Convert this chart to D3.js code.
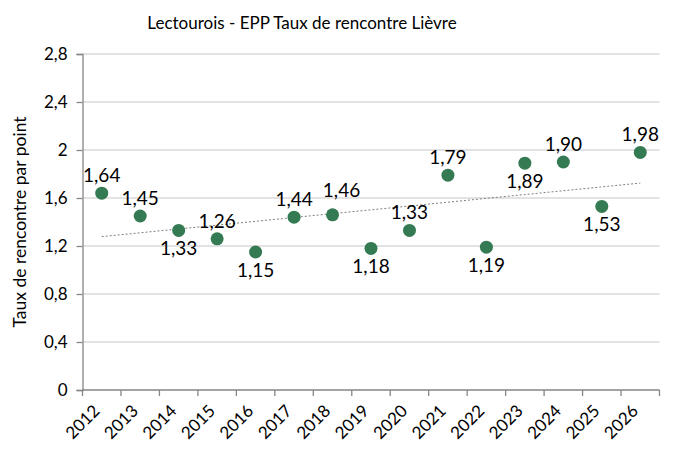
<!DOCTYPE html>
<html>
<head>
<meta charset="utf-8">
<script src="https://cdn.jsdelivr.net/npm/d3@7"></script>
<style>
  body { margin: 0; background: #fff; }
  text { font-family: Lato, "Open Sans", sans-serif; fill: #000; }
</style>
</head>
<body>
<div id="chart"></div>
<script>
// data
const years = ["2012", "2013", "2014", "2015", "2016", "2017", "2018", "2019",
               "2020", "2021", "2022", "2023", "2024", "2025", "2026"];
const taux = [1.64, 1.45, 1.33, 1.26, 1.15, 1.44, 1.46, 1.18,
              1.33, 1.79, 1.19, 1.89, 1.90, 1.53, 1.98];
// where Excel put each data label (the 2018 one was nudged up-right)
const labelPos = ["up", "up", "down", "up", "down", "up", "nudge", "down",
                  "up", "up", "down", "down", "up", "down", "up"];
const yTicks = [0, 0.4, 0.8, 1.2, 1.6, 2, 2.4, 2.8];

const width = 676, height = 451;
const plotL = 82.5, plotR = 659.5, plotT = 54, plotB = 390;

const svg = d3.select("#chart").append("svg")
  .attr("width", width)
  .attr("height", height);

const xBand = d3.scaleBand().domain(years).range([plotL, plotR]);
const yScale = d3.scaleLinear().domain([0, 2.8]).range([plotB, plotT]);
const fmt = d => String(d).replace(".", ",");
const fmt2 = d => d3.format(".2f")(d).replace(".", ",");
const cx = i => xBand(years[i]) + xBand.bandwidth() / 2;

// gridlines
svg.append("g")
  .selectAll("line")
  .data(yTicks.filter(d => d > 0))
  .join("line")
  .attr("x1", plotL).attr("x2", plotR)
  .attr("y1", d => yScale(d)).attr("y2", d => yScale(d))
  .attr("stroke", "#d9d9d9")
  .attr("stroke-width", 1.3);

// y axis
const yAxis = svg.append("g")
  .attr("transform", `translate(${plotL},0)`)
  .call(d3.axisLeft(yScale).tickValues(yTicks).tickSize(6).tickPadding(9).tickFormat(fmt));
yAxis.attr("font-family", null);
yAxis.select(".domain").attr("stroke", "#868686").attr("stroke-width", 1.3);
yAxis.selectAll(".tick line").attr("stroke", "#868686").attr("stroke-width", 1.3);
yAxis.selectAll("text").attr("font-size", 17).style("fill", "#000");

// x axis: ticks at category boundaries
const xAxis = svg.append("g").attr("transform", `translate(0,${plotB})`);
xAxis.append("line")
  .attr("x1", plotL).attr("x2", plotR)
  .attr("stroke", "#868686").attr("stroke-width", 1.3);
const bounds = years.map(y => xBand(y)).concat([plotR]);
xAxis.selectAll(".xt")
  .data(bounds)
  .join("line")
  .attr("class", "xt")
  .attr("x1", d => d).attr("x2", d => d)
  .attr("y1", 0).attr("y2", 6)
  .attr("stroke", "#868686").attr("stroke-width", 1.3);
xAxis.selectAll(".xl")
  .data(years)
  .join("text")
  .attr("class", "xl")
  .attr("text-anchor", "end")
  .attr("font-size", 17)
  .attr("transform", (d, i) => `translate(${cx(i) - 1},${22}) rotate(-45)`)
  .text(d => d);

// linear trendline
const xs = years.map((d, i) => i + 1);
const mx = d3.mean(xs), my = d3.mean(taux);
const slope = d3.sum(xs, (x, i) => (x - mx) * (taux[i] - my)) / d3.sum(xs, x => (x - mx) ** 2);
const icpt = my - slope * mx;
svg.append("path")
  .datum(years)
  .attr("fill", "none")
  .attr("stroke", "#7f7f7f")
  .attr("stroke-width", 1)
  .attr("stroke-dasharray", "2,2")
  .attr("d", d3.line()
    .x((d, i) => cx(i))
    .y((d, i) => yScale(icpt + slope * (i + 1))));

// points
svg.append("g")
  .selectAll("circle")
  .data(taux)
  .join("circle")
  .attr("cx", (d, i) => cx(i))
  .attr("cy", d => yScale(d))
  .attr("r", 6.5)
  .attr("fill", "#347a52");

// data labels
const dyFor = { up: -11, down: 25, nudge: -18 };
svg.append("g")
  .selectAll("text")
  .data(taux)
  .join("text")
  .attr("x", (d, i) => cx(i) + (labelPos[i] === "nudge" ? 9 : 0))
  .attr("y", (d, i) => yScale(d) + dyFor[labelPos[i]])
  .attr("text-anchor", "middle")
  .attr("font-size", 19)
  .text(fmt2);

// title
svg.append("text")
  .attr("x", 302)
  .attr("y", 29)
  .attr("text-anchor", "middle")
  .attr("font-size", 17)
  .text("Lectourois - EPP Taux de rencontre Lièvre");

// y axis title
svg.append("text")
  .attr("transform", `translate(26,${(plotT + plotB) / 2}) rotate(-90)`)
  .attr("text-anchor", "middle")
  .attr("font-size", 17.5)
  .text("Taux de rencontre par point");
</script>
</body>
</html>
